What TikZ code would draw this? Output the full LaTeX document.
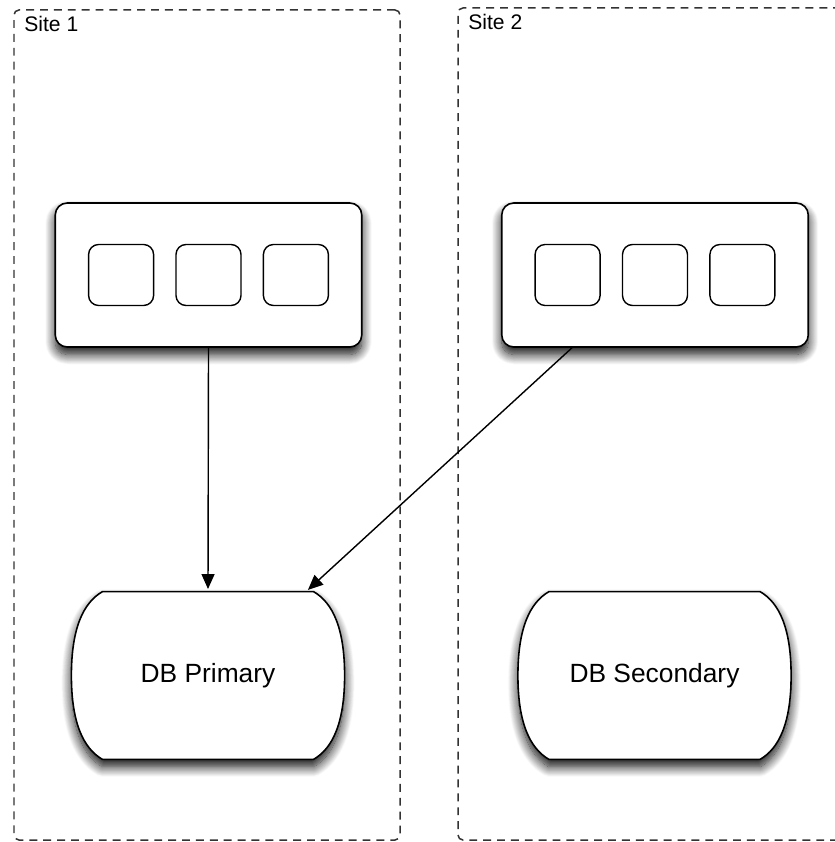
\documentclass[tikz,border=0pt]{standalone}
\usepackage{fontspec}
\setmainfont{Liberation Sans}
\usepackage{tikz}
\usetikzlibrary{arrows.meta, positioning, shadows.blur}

\begin{document}
\begin{tikzpicture}[
    sitebox/.style={rectangle, draw=black!80, line width=0.85pt, dash pattern=on 4.5pt off 3.4pt, rounded corners=0.1cm},
    sitelabel/.style={inner sep=1pt, font=\fontsize{12}{14}\selectfont, anchor=north west},
    boxshadow/.style={blur shadow={shadow xshift=0pt, shadow yshift=-0.15cm, shadow opacity=95, shadow blur radius=0.2cm, shadow blur steps=14}},
    server/.style={rectangle, draw, line width=0.9pt, fill=white, rounded corners=0.24cm, minimum width=6.13cm, minimum height=2.88cm, boxshadow},
    slot/.style={rectangle, draw, line width=0.8pt, rounded corners=0.2cm, minimum width=1.3cm, minimum height=1.22cm},
    dbnode/.style={rectangle, minimum width=5.45cm, minimum height=3.34cm, font=\fontsize{15}{18}\selectfont},
    dbline/.style={draw, line width=0.9pt, fill=white, boxshadow},
    arrow/.style={-{Triangle[length=0.3cm, width=0.26cm, fill=black]}, line width=0.8pt, shorten >=1.5pt},
]
\useasboundingbox (0,0) rectangle (16.68,-16.84);

% sites
\node[sitebox, minimum width=7.72cm, minimum height=16.6cm] (site1) at (4.14,-8.5) {};
\node[sitebox, minimum width=8.04cm, minimum height=16.64cm] (site2) at (13.18,-8.48) {};
\node[sitelabel] (lbl1) at ([xshift=0.18cm, yshift=-0.1cm]site1.north west) {Site 1};
\node[sitelabel] (lbl2) at ([xshift=0.18cm, yshift=-0.1cm]site2.north west) {Site 2};

% servers
\node[server] (srv1) at (4.17,-5.5) {};
\node[slot] (s1b) at (srv1) {};
\node[slot, left=0.42cm of s1b] (s1a) {};
\node[slot, right=0.42cm of s1b] (s1c) {};

\node[server] (srv2) at (13.1,-5.5) {};
\node[slot] (s2b) at (srv2) {};
\node[slot, left=0.42cm of s2b] (s2a) {};
\node[slot, right=0.42cm of s2b] (s2c) {};

% databases
\node[dbnode] (db1) at (4.16,-13.51) {};
\node[dbnode] (db2) at (13.09,-13.51) {};
\foreach \d in {db1,db2}
  \path[dbline] ([xshift=0.62cm]\d.north west) -- ([xshift=-0.62cm]\d.north east)
    .. controls +(0.38,-0.22) and +(0,0.95) .. (\d.east)
    .. controls +(0,-0.95) and +(0.38,0.22) .. ([xshift=-0.62cm]\d.south east)
    -- ([xshift=0.62cm]\d.south west)
    .. controls +(-0.38,0.22) and +(0,-0.95) .. (\d.west)
    .. controls +(0,0.95) and +(-0.38,-0.22) .. cycle;
\node[font=\fontsize{15}{18}\selectfont] (db1txt) at (db1) {DB Primary};
\node[font=\fontsize{15}{18}\selectfont] (db2txt) at (db2) {DB Secondary};

\coordinate (srv2out) at ([xshift=-1.66cm]srv2.south);
\coordinate (db1in) at ([xshift=1.96cm]db1.north);
\draw[arrow] (srv1.south) -- (db1.north);
\draw[arrow] (srv2out) -- (db1in);
\end{tikzpicture}
\end{document}
